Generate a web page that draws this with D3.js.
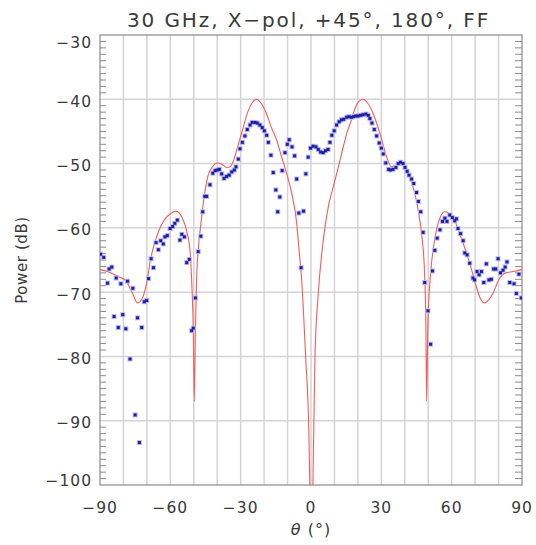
<!DOCTYPE html>
<html>
<head>
<meta charset="utf-8">
<script src="https://cdn.jsdelivr.net/npm/d3@7"></script>
<style>
  html, body { margin: 0; padding: 0; background: #fff; }
  svg { display: block; }
  text { font-family: "DejaVu Sans", sans-serif; fill: #3a3a3a; }
</style>
</head>
<body>
<div id="chart"></div>
<script>
// ---- data ----
const title = "30 GHz, X\u2212pol, +45\u00b0, 180\u00b0, FF";
const xTicks = [-90, -60, -30, 0, 30, 60, 90];
const yTicks = [-30, -40, -50, -60, -70, -80, -90, -100];

// simulated pattern (red line)
const simTheta = [-90, -86, -82, -79, -76, -74, -72, -70, -68.5, -66, -63, -60, -57.5, -55, -53, -51.5, -50.7, -50.2, -49.8, -49.3, -48.8, -48, -47, -45.5, -44, -42, -40, -38, -36, -34.5, -33, -31, -29, -27, -25, -23.2, -21.5, -19, -17, -14.7, -12.5, -10.4, -8, -6.1, -5.2, -4, -2.3, -0.9, -0.5, 0.1, 0.8, 1.7, 3.1, 4.9, 6, 7.5, 9.5, 11.5, 13.7, 15.5, 17, 18.7, 20.5, 22.2, 24, 26.5, 29.4, 32.2, 34.3, 36.5, 39.3, 41.5, 43.5, 45, 46.4, 47.5, 48.5, 49, 49.3, 49.8, 50.7, 51.4, 52.1, 53.5, 55.3, 57.1, 59, 61.3, 63, 64.9, 67.7, 70, 72, 74.1, 75.8, 77.6, 80.5, 83, 86.2, 90];
const simPower = [-66.5, -66.9, -67.6, -68.2, -70.3, -71.7, -71.0, -68.4, -65.0, -61.5, -59.0, -57.8, -57.4, -58.4, -60.5, -64.0, -70.0, -76.0, -87.0, -76.0, -68.0, -63.0, -59.5, -55.0, -52.0, -50.5, -49.9, -50.1, -50.6, -50.5, -49.5, -47.0, -44.5, -42.0, -40.5, -40.0, -40.5, -42.2, -44.3, -46.3, -49.0, -51.5, -55.0, -59.3, -63.0, -68.0, -80.0, -92.0, -100.0, -110.0, -100.0, -80.0, -70.2, -63.0, -59.8, -56.5, -53.6, -50.8, -47.5, -45.0, -43.5, -41.5, -40.3, -40.0, -40.5, -42.2, -45.3, -48.9, -50.5, -50.4, -50.0, -51.5, -53.6, -55.8, -58.8, -62.0, -67.6, -75.0, -87.0, -76.0, -68.6, -65.5, -63.4, -60.3, -58.2, -57.5, -57.8, -58.8, -60.5, -62.4, -65.5, -68.5, -70.8, -71.7, -71.2, -70.2, -67.8, -67.0, -66.8, -66.5];

// measured pattern (blue points)
const measTheta = [-89.7, -88.4, -86.8, -86.1, -85, -84, -83.1, -82.2, -81.1, -80.3, -79, -78.3, -77.2, -76, -75, -74, -73.2, -72.2, -71.1, -70.1, -69.3, -68.2, -67.2, -66.1, -65.1, -64.1, -63, -62.3, -61.3, -60.1, -59, -58.1, -57, -55.9, -55.1, -54, -53, -51.9, -50.9, -50.2, -49.3, -48.1, -47, -46.2, -45.3, -44.5, -43.1, -41.9, -40.9, -40, -39.1, -38.1, -37.1, -36, -34.9, -33.8, -32.7, -32, -31, -30.3, -29.3, -28.2, -27.2, -26, -25.1, -23.9, -22.9, -21.8, -20.8, -19.9, -18.9, -18.2, -17.1, -16.1, -15, -14.2, -13.3, -12.3, -11.1, -10.1, -9.3, -8.1, -7, -6.1, -5.2, -4.2, -3.2, -2.2, -1.2, -0.2, 0.9, 2.1, 3.1, 4.1, 5.2, 6.2, 7.3, 8.1, 8.9, 9.9, 10.9, 12, 13, 14, 15.2, 16.2, 17.2, 18.1, 19.1, 20.1, 21.1, 22.2, 23.4, 24.4, 25.1, 26, 27, 28, 29.1, 30, 30.8, 31.9, 33.1, 33.9, 35, 36.2, 37.2, 38.2, 39.3, 40.1, 41, 41.8, 42.9, 43.8, 45, 45.8, 46.8, 47.8, 48.5, 49.9, 51, 51.8, 52.8, 53.8, 55, 56.1, 57.1, 58, 59.2, 60.3, 61.3, 62, 62.7, 63.8, 64.9, 65.6, 66.6, 67.7, 69.1, 69.8, 70.8, 71.7, 72.7, 73.7, 74.8, 75.9, 76.9, 77.9, 78.8, 79.8, 80.8, 81.9, 82.8, 83.6, 84.8, 86.6, 87.6, 88.7, 89.7];
const measPower = [-64.1, -64.6, -68.6, -66.4, -66.1, -73.8, -67.8, -75.5, -68.7, -73.5, -75.7, -68.3, -80.4, -69.4, -89.1, -74.0, -93.4, -75.5, -71.5, -71.3, -67.9, -64.8, -66.2, -62.3, -63.4, -62.0, -62.5, -61.4, -61.2, -60.1, -59.8, -59.3, -58.8, -61.9, -61.0, -61.4, -65.4, -64.9, -76.0, -75.6, -70.9, -63.7, -61.3, -57.5, -55.1, -55.1, -53.3, -51.5, -51.1, -51.0, -50.9, -51.6, -52.3, -52.0, -51.8, -51.3, -51.0, -50.5, -49.3, -47.7, -46.7, -45.7, -44.7, -44.0, -43.6, -43.6, -43.7, -44.0, -44.4, -44.9, -45.6, -46.7, -48.7, -51.4, -54.1, -57.5, -55.2, -51.1, -48.3, -47.0, -46.3, -47.4, -48.8, -52.4, -57.7, -66.2, -57.4, -51.6, -49.0, -47.6, -47.3, -47.4, -47.8, -48.2, -48.3, -48.0, -47.8, -46.7, -45.6, -44.9, -44.0, -43.5, -43.2, -43.1, -42.8, -42.7, -42.8, -42.7, -42.6, -42.6, -42.5, -42.4, -42.3, -42.5, -43.0, -43.7, -44.7, -45.7, -46.8, -47.6, -48.5, -49.9, -50.9, -51.0, -50.9, -50.6, -50.0, -49.8, -50.0, -50.6, -51.2, -51.8, -52.4, -53.1, -54.5, -55.9, -57.5, -60.7, -68.5, -72.9, -78.1, -66.7, -63.5, -61.6, -60.3, -59.0, -58.5, -59.0, -58.0, -58.4, -58.9, -58.6, -60.1, -60.9, -62.0, -63.9, -64.2, -65.5, -67.8, -68.1, -66.8, -67.3, -66.8, -68.5, -65.6, -68.1, -68.0, -66.4, -66.4, -64.8, -67.0, -66.6, -66.1, -65.3, -68.5, -68.7, -70.2, -67.2, -70.9];

// ---- layout ----
const W = 536, H = 545;
const mLeft = 100, mRight = 522, mTop = 35, mBottom = 485;

const svg = d3.select("#chart").append("svg").attr("width", W).attr("height", H);

const x = d3.scaleLinear().domain([-90, 90]).range([mLeft, mRight]);
const y = d3.scaleLinear().domain([-100, -30]).range([mBottom, mTop]);

// grid
const gridColor = "#d4d4d4";
svg.append("g").selectAll("line").data(d3.range(-80, 90, 10)).join("line")
  .attr("x1", d => x(d)).attr("x2", d => x(d)).attr("y1", mTop).attr("y2", mBottom)
  .attr("stroke", gridColor).attr("stroke-width", 1.5);
svg.append("g").selectAll("line").data(d3.range(-90, -30, 10)).join("line")
  .attr("y1", d => y(d)).attr("y2", d => y(d)).attr("x1", mLeft).attr("x2", mRight)
  .attr("stroke", gridColor).attr("stroke-width", 1.5);

// minor y ticks (1 dB), left and right
const minor = d3.range(-99, -30, 1).filter(v => v % 10 !== 0);
const axisColor = "#8a8a8a";
svg.append("g").selectAll("line").data(minor).join("line")
  .attr("x1", mLeft).attr("x2", mLeft + 6).attr("y1", d => y(d)).attr("y2", d => y(d))
  .attr("stroke", axisColor).attr("stroke-width", 1);
svg.append("g").selectAll("line").data(minor).join("line")
  .attr("x1", mRight).attr("x2", mRight - 7).attr("y1", d => y(d)).attr("y2", d => y(d))
  .attr("stroke", axisColor).attr("stroke-width", 1);

// frame
svg.append("rect").attr("x", mLeft).attr("y", mTop).attr("width", mRight - mLeft).attr("height", mBottom - mTop)
  .attr("fill", "none").attr("stroke", axisColor).attr("stroke-width", 1.2);

// clip
svg.append("defs").append("clipPath").attr("id", "plotclip").append("rect")
  .attr("x", mLeft).attr("y", mTop).attr("width", mRight - mLeft).attr("height", mBottom - mTop);

// red simulated line
const simData = simTheta.map((t, i) => [t, simPower[i]]);
svg.append("path").datum(simData)
  .attr("clip-path", "url(#plotclip)")
  .attr("fill", "none").attr("stroke", "#f45c5c").attr("stroke-width", 1.1)
  .attr("d", d3.line().x(d => x(d[0])).y(d => y(d[1])).curve(d3.curveMonotoneX));

// blue measured points
const measData = measTheta.map((t, i) => [t, measPower[i]]);
const pts = svg.append("g").attr("clip-path", "url(#plotclip)");
pts.selectAll("rect.halo").data(measData).join("rect").attr("class", "halo")
  .attr("x", d => x(d[0]) - 2.5).attr("y", d => y(d[1]) - 2.5).attr("width", 5).attr("height", 5)
  .attr("fill", "#b8b8ec");
pts.selectAll("rect.pt").data(measData).join("rect").attr("class", "pt")
  .attr("x", d => x(d[0]) - 1.5).attr("y", d => y(d[1]) - 1.5).attr("width", 3).attr("height", 3)
  .attr("fill", "#1e1ea0");

// tick labels
const minus = s => String(s).replace("-", "\u2212");
svg.append("g").selectAll("text").data(yTicks).join("text")
  .attr("x", 92).attr("y", d => y(d) + (d === -30 ? 13.3 : d === -100 ? 0.5 : 7.6))
  .attr("text-anchor", "end").attr("font-size", 15.5).attr("letter-spacing", 1)
  .text(d => minus(d));
svg.append("g").selectAll("text").data(xTicks).join("text")
  .attr("x", d => x(d)).attr("y", 512.5)
  .attr("text-anchor", "middle").attr("font-size", 15.5).attr("letter-spacing", 1)
  .text(d => minus(d));

// axis titles
const xl = svg.append("text").attr("x", x(0)).attr("y", 535).attr("text-anchor", "middle")
  .attr("font-size", 16).attr("letter-spacing", 1);
xl.append("tspan").attr("font-style", "italic").text("\u03b8");
xl.append("tspan").text(" (\u00b0)");
svg.append("text").attr("transform", `translate(27, ${(mTop + mBottom) / 2}) rotate(-90)`)
  .attr("text-anchor", "middle").attr("font-size", 15).attr("letter-spacing", 0.6).text("Power (dB)");

// title
svg.append("text").attr("x", 308.5).attr("y", 26.7).attr("text-anchor", "middle")
  .attr("font-size", 20).attr("letter-spacing", 1.9).text(title);
</script>
</body>
</html>
